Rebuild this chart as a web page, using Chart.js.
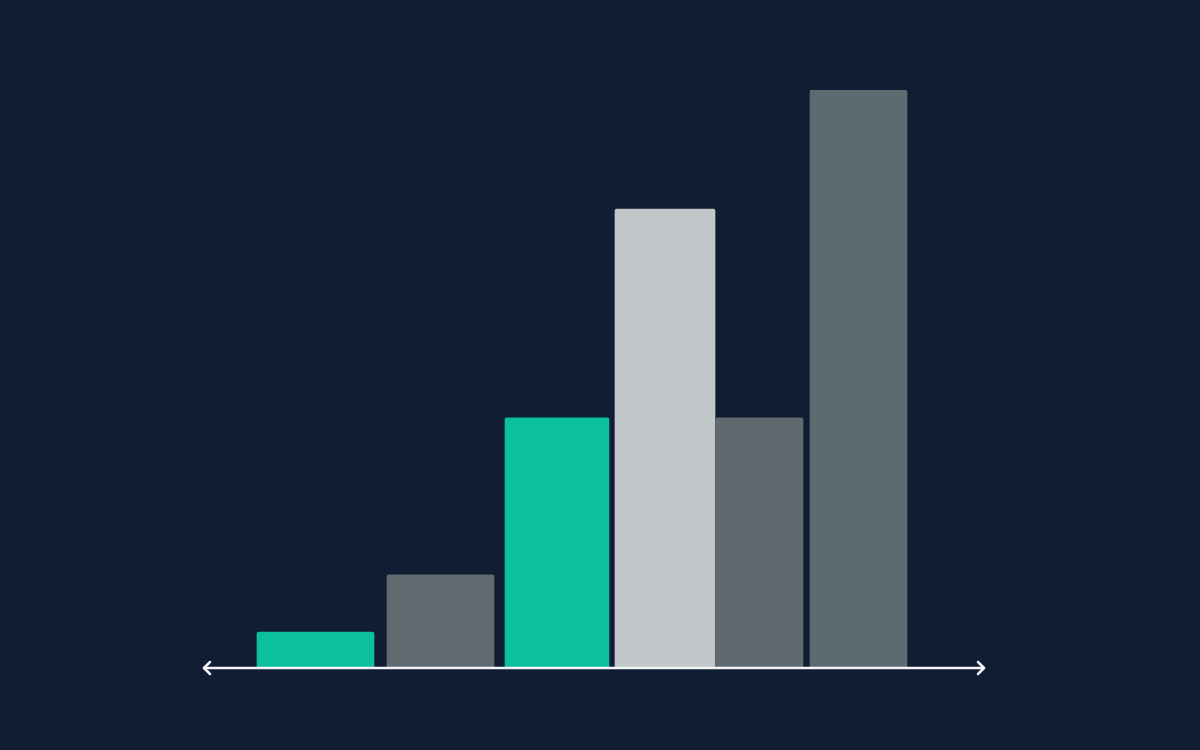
<!DOCTYPE html>
<html>
<head>
<meta charset="utf-8">
<script src="https://cdn.jsdelivr.net/npm/chart.js@4.4.1/dist/chart.umd.min.js"></script>
<style>
  html, body { margin: 0; padding: 0; background: #111d33; }
  canvas { display: block; }
</style>
</head>
<body>
<canvas id="barChart" width="1200" height="750"></canvas>
<script>
// bars: left/right edge on the x scale, height on a 0-100 scale
const barStarts = [54, 184, 302, 412, 513, 607];
const barEnds = [171, 291, 406, 512, 600, 704];
const barValues = [6.2, 16.1, 43.3, 79.4, 43.3, 100];
const barColors = ['#0bbf9f', '#5f6b71', '#0bbf9f', '#c1c6c9', '#5e6a70', '#5d6a70'];

const axisArrows = {
  id: 'axisArrows',
  afterDatasetsDraw(chart) {
    const { ctx, scales: { x, y } } = chart;
    const yy = y.getPixelForValue(0);
    const left = x.getPixelForValue(x.min);
    const right = x.getPixelForValue(x.max);
    ctx.save();
    ctx.strokeStyle = '#f2f4f6';
    ctx.lineWidth = 2.5;
    ctx.lineCap = 'round';
    ctx.lineJoin = 'round';
    ctx.beginPath();
    ctx.moveTo(left + 1, yy);
    ctx.lineTo(right - 1, yy);
    ctx.stroke();
    ctx.beginPath();
    ctx.moveTo(left + 7, yy - 6);
    ctx.lineTo(left + 1, yy);
    ctx.lineTo(left + 7, yy + 6);
    ctx.moveTo(right - 7, yy - 6);
    ctx.lineTo(right - 1, yy);
    ctx.lineTo(right - 7, yy + 6);
    ctx.stroke();
    ctx.restore();
  }
};

document.addEventListener('DOMContentLoaded', () => {
  const datasets = barValues.map((v, i) => ({
    data: [{ x: (barStarts[i] + barEnds[i]) / 2, y: v }],
    backgroundColor: barColors[i],
    borderWidth: 0,
    borderRadius: 2,
    borderSkipped: 'bottom',
    grouped: false,
    barThickness: (c) => {
      const sx = c.chart.scales.x;
      if (!sx) return 50;
      return sx.getPixelForValue(barEnds[i]) - sx.getPixelForValue(barStarts[i]);
    }
  }));

  new Chart(document.getElementById('barChart').getContext('2d'), {
    type: 'bar',
    data: { datasets },
    options: {
      responsive: false,
      animation: false,
      devicePixelRatio: 1,
      layout: { padding: { left: 203, right: 215, top: 90, bottom: 82 } },
      plugins: { legend: { display: false }, tooltip: { enabled: false } },
      scales: {
        x: { type: 'linear', min: 0, max: 782, offset: false, display: false },
        y: { min: 0, max: 100, display: false }
      }
    },
    plugins: [axisArrows]
  });
});
</script>
</body>
</html>
